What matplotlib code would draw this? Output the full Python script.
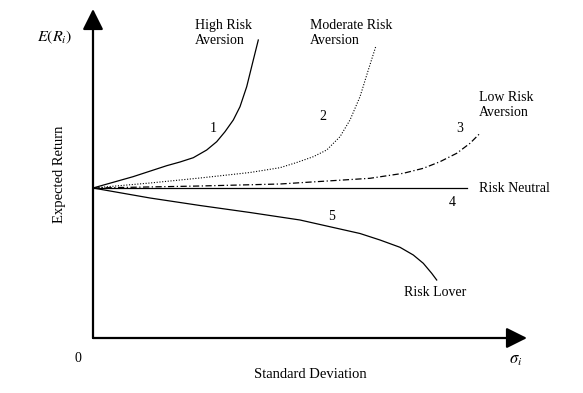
import numpy as np
import matplotlib
matplotlib.use('Agg')
import matplotlib.pyplot as plt

plt.rcParams['font.family'] = ['Liberation Serif', 'DejaVu Serif']
plt.rcParams['mathtext.fontset'] = 'stix'

# Точки кривых безразличия (sigma, E(R))
high_x = [0, 4.0, 7.37, 8.7, 10.03, 11.37, 12.37, 13.2, 14.03, 14.7, 15.37, 16.03, 16.53]
high_y = [15.0, 16.13, 17.23, 17.6, 18.03, 18.8, 19.63, 20.63, 21.8, 23.13, 25.13, 27.8, 29.8]

mod_x = [0, 5.7, 10.7, 15.7, 18.7, 20.37, 22.03, 23.37, 24.7, 25.7, 26.7, 27.53, 28.27]
mod_y = [15.0, 15.5, 16.0, 16.55, 17.03, 17.55, 18.13, 18.8, 20.13, 21.8, 24.13, 26.8, 29.13]

low_x = [0, 10.7, 18.7, 27.7, 31.03, 33.03, 34.7, 36.37, 37.7, 38.7]
low_y = [15.0, 15.2, 15.4, 15.97, 16.47, 16.97, 17.63, 18.47, 19.47, 20.47]

neu_x = [0, 37.4]
neu_y = [15.0, 15.0]

lover_x = [0, 5.7, 10.7, 15.7, 20.7, 24.7, 26.7, 28.7, 30.7, 32.03, 33.03, 33.87, 34.37]
lover_y = [15.0, 14.0, 13.25, 12.55, 11.8, 10.9, 10.45, 9.8, 9.07, 8.3, 7.47, 6.47, 5.8]

fig = plt.figure(figsize=(5.83, 3.93), dpi=100)
ax = fig.add_axes([0, 0, 1, 1])
ax.set_xlim(-9.3, 49.0)
ax.set_ylim(-5.5, 33.8)
ax.axis('off')

# оси со стрелками
arrow = dict(arrowstyle='-|>,head_length=0.9,head_width=0.45', lw=1.6,
             color='black', shrinkA=0, shrinkB=0, mutation_scale=14)
ax.annotate('', xy=(0, 32.9), xytext=(0, 0), arrowprops=arrow)
ax.annotate('', xy=(43.4, 0), xytext=(0, 0), arrowprops=arrow)

lw = 0.9
ax.plot(high_x, high_y, color='black', lw=lw)
ax.plot(mod_x, mod_y, color='black', lw=0.8, linestyle=(0, (1, 1.5)))
ax.plot(low_x, low_y, color='black', lw=lw, linestyle=(0, (5, 2, 1, 2)))
ax.plot(neu_x, neu_y, color='black', lw=lw)
ax.plot(lover_x, lover_y, color='black', lw=lw)

fs = 10
ax.text(10.2, 30.5, 'High Risk\nAversion', fontsize=fs, va='center', linespacing=1.25)
ax.text(21.7, 30.5, 'Moderate Risk\nAversion', fontsize=fs, va='center', linespacing=1.25)
ax.text(38.6, 23.3, 'Low Risk\nAversion', fontsize=fs, va='center', linespacing=1.25)
ax.text(38.6, 15.0, 'Risk Neutral', fontsize=fs, va='center')
ax.text(31.1, 4.5, 'Risk Lover', fontsize=fs, va='center')

ax.text(12.0, 21.0, '1', fontsize=fs, ha='center', va='center')
ax.text(23.0, 22.2, '2', fontsize=fs, ha='center', va='center')
ax.text(36.7, 21.0, '3', fontsize=fs, ha='center', va='center')
ax.text(35.9, 13.5, '4', fontsize=fs, ha='center', va='center')
ax.text(23.9, 12.1, '5', fontsize=fs, ha='center', va='center')

ax.text(-3.8, 30.1, r'$E(R_i)$', fontsize=11.5, ha='center', va='center')
ax.text(-3.4, 16.4, 'Expected Return', fontsize=10.5, rotation=90, ha='center', va='center')
ax.text(-1.5, -2.0, '0', fontsize=fs, ha='center', va='center')
ax.text(21.7, -3.6, 'Standard Deviation', fontsize=10.5, ha='center', va='center')
ax.text(42.3, -2.2, r'$\sigma_i$', fontsize=12, ha='center', va='center')

fig.savefig('out.png', dpi=100)
